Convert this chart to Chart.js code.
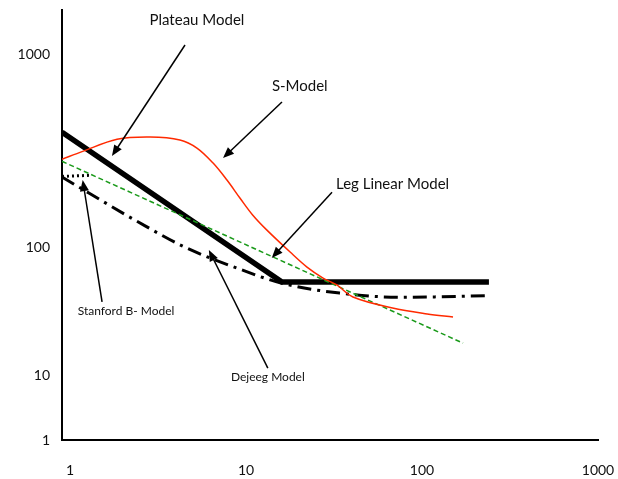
<!DOCTYPE html>
<html>
<head>
<meta charset="utf-8">
<script src="https://cdn.jsdelivr.net/npm/chart.js@4"></script>
<style>
  html, body { margin: 0; padding: 0; background: #fff; }
  #wrap { width: 618px; height: 479px; }
</style>
</head>
<body>
<div id="wrap"><canvas id="chart" width="618" height="479"></canvas></div>
<script>
// values (log-log)
let xTicks = [1, 10, 100, 1000];
let yTickValues = [10, 21.7, 100, 1000];
let yTickLabels = ['1', '10', '100', '1000'];

let plateauX = [0.9, 16, 240];
let plateauY = [395, 66, 66];

let sModelX = [0.9, 1.18, 1.85, 2.85, 4.21, 5.26, 6.48, 7.79, 9.23, 10.9, 13.1, 17.8, 22.2, 27.4, 32.8, 40.5, 68, 107, 150];
let sModelY = [286, 314, 363, 373, 360, 327, 274, 223, 180, 147, 123, 94.4, 78.9, 69.2, 63.7, 55.2, 48.4, 45.1, 43.5];

let legLinearX = [0.9, 171];
let legLinearY = [279, 31.8];

let dejeegX = [0.9, 2.67, 4.5, 9.2, 16, 34, 75, 237];
let dejeegY = [231, 129, 100, 77, 65, 57.8, 55, 56];

let stanfordX = [0.9, 1.3];
let stanfordY = [233, 236];

// labels with arrows, in data units
let notes = [
  { text: 'Plateau Model', tx: 5.26, ty: 1507, size: 15, x1: 4.5, y1: 1119, x2: 1.73, y2: 297 },
  { text: 'S-Model', tx: 20.2, ty: 686, size: 15, x1: 16, y1: 566, x2: 7.4, y2: 290 },
  { text: 'Leg Linear Model', tx: 68, ty: 213, size: 15, x1: 30.8, y1: 193, x2: 14, y2: 88 },
  { text: 'Stanford B- Model', tx: 2.08, ty: 46.7, size: 12, x1: 1.52, y1: 52, x2: 1.18, y2: 223 },
  { text: 'Dejeeg Model', tx: 13.3, ty: 21.2, size: 12, x1: 13.3, y1: 23.6, x2: 6.15, y2: 96.6 }
];

function pts(xs, ys) {
  return xs.map((x, i) => ({ x: x, y: ys[i] }));
}

let arrowPlugin = {
  id: 'arrows',
  afterDatasetsDraw(chart) {
    let c = chart.ctx, sx = chart.scales.x, sy = chart.scales.y;
    c.save();
    notes.forEach(n => {
      let ax = sx.getPixelForValue(n.x1), ay = sy.getPixelForValue(n.y1);
      let bx = sx.getPixelForValue(n.x2), by = sy.getPixelForValue(n.y2);
      let ang = Math.atan2(by - ay, bx - ax);
      let len = 11, half = 4.5;
      c.strokeStyle = '#000';
      c.fillStyle = '#000';
      c.lineWidth = 1.5;
      c.beginPath();
      c.moveTo(ax, ay);
      c.lineTo(bx - Math.cos(ang) * len * 0.8, by - Math.sin(ang) * len * 0.8);
      c.stroke();
      c.beginPath();
      c.moveTo(bx, by);
      c.lineTo(bx - Math.cos(ang) * len - Math.sin(ang) * half, by - Math.sin(ang) * len + Math.cos(ang) * half);
      c.lineTo(bx - Math.cos(ang) * len + Math.sin(ang) * half, by - Math.sin(ang) * len - Math.cos(ang) * half);
      c.closePath();
      c.fill();
      c.font = n.size + 'px Lato';
      c.textAlign = 'center';
      c.textBaseline = 'middle';
      c.fillStyle = '#111';
      c.fillText(n.text, sx.getPixelForValue(n.tx), sy.getPixelForValue(n.ty));
    });
    c.restore();
  }
};

let ctx = document.getElementById('chart').getContext('2d');
let myChart = new Chart(ctx, {
  type: 'scatter',
  data: {
    datasets: [
      {
        label: 'S-Model',
        data: pts(sModelX, sModelY),
        showLine: true,
        borderColor: '#ff2a00',
        borderWidth: 1.5,
        tension: 0.35,
        pointRadius: 0
      },
      {
        label: 'Leg Linear Model',
        data: pts(legLinearX, legLinearY),
        showLine: true,
        borderColor: '#1a9a1a',
        borderWidth: 1.5,
        borderDash: [5, 3],
        pointRadius: 0
      },
      {
        label: 'Dejeeg Model',
        data: pts(dejeegX, dejeegY),
        showLine: true,
        borderColor: '#000',
        borderWidth: 3,
        borderDash: [14, 6, 3, 6],
        cubicInterpolationMode: 'monotone',
        pointRadius: 0
      },
      {
        label: 'Stanford B- Model',
        data: pts(stanfordX, stanfordY),
        showLine: true,
        borderColor: '#000',
        borderWidth: 3,
        borderDash: [2, 3],
        pointRadius: 0
      },
      {
        label: 'Plateau Model',
        data: pts(plateauX, plateauY),
        showLine: true,
        borderColor: '#000',
        borderWidth: 5.5,
        pointRadius: 0
      }
    ]
  },
  options: {
    responsive: false,
    animation: false,
    layout: { padding: { top: 10, right: 20, left: 0, bottom: 0 } },
    plugins: {
      legend: { display: false },
      tooltip: { enabled: false }
    },
    scales: {
      x: {
        type: 'logarithmic',
        min: 0.9,
        max: 1000,
        grid: { display: false, drawTicks: false },
        border: { color: '#000', width: 2 },
        afterBuildTicks: s => { s.ticks = xTicks.map(v => ({ value: v })); },
        afterFit: s => { s.height = 39; s.paddingLeft = 0; s.paddingRight = 0; },
        ticks: {
          color: '#111',
          font: { family: 'Lato', size: 14 },
          padding: 22,
          maxRotation: 0,
          callback: v => String(v)
        }
      },
      y: {
        type: 'logarithmic',
        min: 10,
        max: 1700,
        grid: { display: false, drawTicks: false },
        border: { color: '#000', width: 2 },
        afterBuildTicks: s => { s.ticks = yTickValues.map(v => ({ value: v })); },
        afterFit: s => { s.width = 62; s.paddingTop = 0; s.paddingBottom = 0; },
        ticks: {
          color: '#111',
          font: { family: 'Lato', size: 14 },
          padding: 12,
          callback: (v, i) => yTickLabels[i]
        }
      }
    }
  },
  plugins: [arrowPlugin]
});
</script>
</body>
</html>
